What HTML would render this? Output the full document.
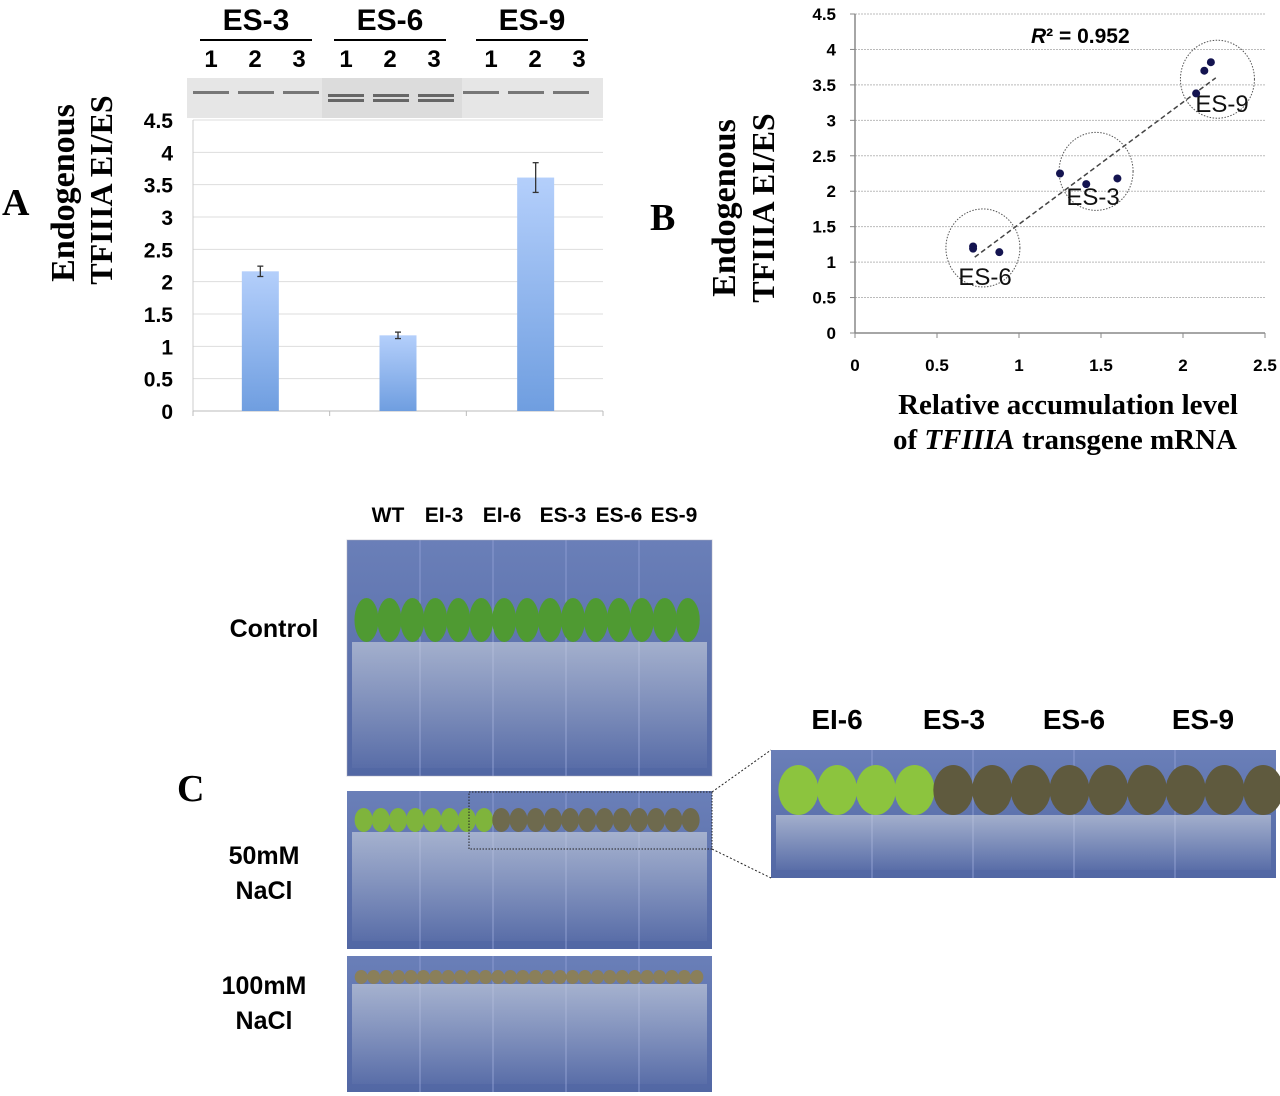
<!DOCTYPE html>
<html><head><meta charset="utf-8"><style>
html,body{margin:0;padding:0;background:#fff;}
svg{display:block;}
.sn{font-family:"Liberation Sans Narrow","Liberation Sans",sans-serif;font-weight:bold;}
.sf{font-family:"Liberation Serif",serif;font-weight:bold;}
</style></head><body>
<svg id="fig" width="1280" height="1096" viewBox="0 0 1280 1096" xmlns="http://www.w3.org/2000/svg">
<defs>
<linearGradient id="barg" x1="0" y1="0" x2="0" y2="1"><stop offset="0" stop-color="#b4cffb"/><stop offset="1" stop-color="#6f9ee0"/></linearGradient>
<linearGradient id="plate" x1="0" y1="0" x2="0" y2="1"><stop offset="0" stop-color="#6a7fb8"/><stop offset="1" stop-color="#5267a4"/></linearGradient>
<linearGradient id="roots" x1="0" y1="0" x2="0" y2="1"><stop offset="0" stop-color="#d0d6e0" stop-opacity="0.6"/><stop offset="1" stop-color="#c9d0dc" stop-opacity="0.05"/></linearGradient>
</defs>
<g id="panelA"></g>
<g id="panelB"></g>
<g id="panelC"></g>
</svg>
<script>
// ---------- Panel A data ----------
const aCategories = ["ES-3","ES-6","ES-9"];
const aValues = [2.16, 1.17, 3.61];
const aErrors = [0.08, 0.05, 0.23];
const aTicks = ["0","0.5","1","1.5","2","2.5","3","3.5","4","4.5"];
// ---------- Panel B data ----------
const bX = [0.72, 0.72, 0.88, 1.25, 1.41, 1.60, 2.08, 2.13, 2.17];
const bY = [1.22, 1.19, 1.14, 2.25, 2.10, 2.18, 3.38, 3.70, 3.82];
const bTrendX = [0.73, 2.20];
const bTrendY = [1.07, 3.60];
const bGroups = ["ES-6","ES-3","ES-9"];
const bGroupCx = [0.78, 1.47, 2.21];
const bGroupCy = [1.20, 2.28, 3.58];
const bYTicks = ["0","0.5","1","1.5","2","2.5","3","3.5","4","4.5"];
const bXTicks = ["0","0.5","1","1.5","2","2.5"];

const NS="http://www.w3.org/2000/svg";
function mk(parent,tag,attrs,text){const e=document.createElementNS(NS,tag);for(const k in attrs)e.setAttribute(k,attrs[k]);if(text!==undefined)e.textContent=text;parent.appendChild(e);return e;}

// ===== Panel A =====
(function(){
 const g=document.getElementById('panelA');
 const y0=411,y1=120,xl=193,xr=603;
 const ya=v=>y0-(v/4.5)*(y0-y1);
 const step=(xr-xl)/aCategories.length;
 const xa=i=>xl+step*(i+0.5)+ (i-1)*1;
 let t=mk(g,'text',{x:2,y:215,'font-size':38,class:'sf'},'A');
 
 t=mk(g,'text',{transform:'translate(74,193) rotate(-90)','text-anchor':'middle','font-size':34,class:'sf'},'Endogenous');
 
 t=mk(g,'text',{transform:'translate(112,190) rotate(-90)','text-anchor':'middle','font-size':32,class:'sf'},'TFIIIA EI/ES');
 
 // gel
 const gel=mk(g,'g',{});
 
 mk(gel,'rect',{x:187,y:78,width:416,height:40,fill:'#e6e6e6'});
 mk(gel,'rect',{x:322,y:78,width:140,height:40,fill:'#dcdcdc'});
 for(let i=0;i<3;i++){
  for(let j=0;j<3;j++){
   const cx=211+i*135+j*45;
   if(i===1){mk(gel,'rect',{x:cx-18,y:94,width:36,height:3,fill:'#666'});mk(gel,'rect',{x:cx-18,y:99,width:36,height:3,fill:'#666'});}
   else mk(gel,'rect',{x:cx-18,y:91,width:36,height:3,fill:'#777'});
  }
 }
 // headers
 for(let i=0;i<3;i++){
  const cx=256+i*134;
  t=mk(g,'text',{x:cx+(i==2?8:0),y:30,'text-anchor':'middle','font-size':30,class:'sn'},aCategories[i]);
  
  const l=mk(g,'line',{x1:cx-56+(i==2?8:0),x2:cx+56+(i==2?8:0),y1:40,y2:40,stroke:'#000','stroke-width':2});
  
  for(let j=0;j<3;j++){
   t=mk(g,'text',{x:211+i*(i==2?140:135)+j*44,y:67,'text-anchor':'middle','font-size':24,class:'sn'},String(j+1));
   
  }
 }
 aTicks.forEach((lab,i)=>{
  const v=parseFloat(lab),y=ya(v);
  const gl=mk(g,'line',{x1:xl,x2:xr,y1:y,y2:y,stroke:'#ddd','stroke-width':1});
  
  t=mk(g,'text',{x:173,y:y+8,'text-anchor':'end','font-size':21,class:'sn'},lab);
  
 });
 let ax=mk(g,'line',{x1:xl,x2:xl,y1:y1,y2:y0,stroke:'#ccc'});
 ax=mk(g,'line',{x1:xl,x2:xr,y1:y0,y2:y0,stroke:'#bbb'});
 for(let i=0;i<=3;i++){mk(g,'line',{x1:xl+step*i,x2:xl+step*i,y1:y0,y2:y0+5,stroke:'#bbb'});}
 aValues.forEach((v,i)=>{
  const cx=xa(i),w=37;
  const r=mk(g,'rect',{x:cx-w/2,y:ya(v),width:w,height:y0-ya(v),fill:'url(#barg)'});
  
  const e=aErrors[i],eg=mk(g,'g',{stroke:'#333','stroke-width':1.3});
  
  mk(eg,'line',{x1:cx,x2:cx,y1:ya(v+e),y2:ya(v-e)});
  mk(eg,'line',{x1:cx-3,x2:cx+3,y1:ya(v+e),y2:ya(v+e)});
  mk(eg,'line',{x1:cx-3,x2:cx+3,y1:ya(v-e),y2:ya(v-e)});
 });
})();

// ===== Panel B =====
(function(){
 const g=document.getElementById('panelB');
 const y0=333,y1=14,x0=855,x1=1265;
 const ys=v=>y0-(v/4.5)*(y0-y1);
 const xs=v=>x0+(v/2.5)*(x1-x0);
 let t=mk(g,'text',{x:650,y:230,'font-size':38,class:'sf'},'B');
 
 t=mk(g,'text',{transform:'translate(735,208) rotate(-90)','text-anchor':'middle','font-size':34,class:'sf'},'Endogenous');
 
 t=mk(g,'text',{transform:'translate(774,208) rotate(-90)','text-anchor':'middle','font-size':32,class:'sf'},'TFIIIA EI/ES');
 
 bYTicks.forEach(lab=>{
  const v=parseFloat(lab),y=ys(v);
  if(v>0){const gl=mk(g,'line',{x1:x0,x2:x1,y1:y,y2:y,stroke:'#bbb','stroke-dasharray':'2,1'});}
  mk(g,'line',{x1:x0-5,x2:x0,y1:y,y2:y,stroke:'#888'});
  t=mk(g,'text',{x:836,y:y+6,'text-anchor':'end','font-size':17,class:'sn'},lab);
  
 });
 bXTicks.forEach(lab=>{
  const v=parseFloat(lab),x=xs(v);
  mk(g,'line',{x1:x,x2:x,y1:y0,y2:y0+5,stroke:'#888'});
  t=mk(g,'text',{x:x,y:371,'text-anchor':'middle','font-size':17,class:'sn'},lab);
  
 });
 let ax=mk(g,'line',{x1:x0,x2:x0,y1:y1,y2:y0,stroke:'#888','stroke-width':1.5});
 ax=mk(g,'line',{x1:x0,x2:x1,y1:y0,y2:y0,stroke:'#888','stroke-width':1.5});
 t=mk(g,'text',{x:1068,y:414,'text-anchor':'middle','font-size':29,class:'sf'},'Relative accumulation level');
 
 t=mk(g,'text',{x:1065,y:449,'text-anchor':'middle','font-size':29,class:'sf'});
 
 t.innerHTML='of <tspan font-style="italic">TFIIIA</tspan> transgene mRNA';
 t=mk(g,'text',{x:1031,y:43,'font-size':21,class:'sn'});
 
 t.innerHTML='<tspan font-style="italic">R</tspan>² = 0.952';
 const tl=mk(g,'line',{x1:xs(bTrendX[0]),y1:ys(bTrendY[0]),x2:xs(bTrendX[1]),y2:ys(bTrendY[1]),stroke:'#444','stroke-width':1.5,'stroke-dasharray':'5,3'});
 
 bGroups.forEach((name,i)=>{
  const c=mk(g,'ellipse',{cx:xs(bGroupCx[i]),cy:ys(bGroupCy[i]),rx:37,ry:39,fill:'none',stroke:'#555','stroke-dasharray':'1.5,1.5'});
  
  const lx=[985,1093,1222][i],ly=[285,205,112][i];
  t=mk(g,'text',{x:lx,y:ly,'text-anchor':'middle','font-size':24,'font-family':'"Liberation Sans Narrow","Liberation Sans",sans-serif',fill:'#111'},name);
  
 });
 bX.forEach((x,i)=>{
  const p=mk(g,'circle',{cx:xs(x),cy:ys(bY[i]),r:4,fill:'#141450'});
  
 });
})();

// ===== Panel C (photographs approximated) =====
(function(){
 const g=document.getElementById('panelC');
 let t=mk(g,'text',{x:177,y:801,'font-size':38,class:'sf'},'C');
 
 const heads=["WT","EI-3","EI-6","ES-3","ES-6","ES-9"],hx=[388,444,502,563,619,674];
 heads.forEach((h,i)=>{t=mk(g,'text',{x:hx[i],y:522,'text-anchor':'middle','font-size':21,class:'sn'},h);});
 const rows=[["Control",null,637],["50mM","NaCl",872],["100mM","NaCl",1002]];
 rows.forEach(r=>{
  t=mk(g,'text',{x:r[1]?264:274,y:r[1]?r[2]-8:r[2],'text-anchor':'middle','font-size':25,class:'sn'},r[0]);
  
  if(r[1]){t=mk(g,'text',{x:264,y:r[2]+27,'text-anchor':'middle','font-size':25,class:'sn'},r[1]);}
 });
 function plate(name,x,y,w,h,leafY,leafColor,leafH,leafW){
  const p=mk(g,'g',{});
  mk(p,'rect',{x:x,y:y,width:w,height:h,fill:'url(#plate)'});
  for(let k=1;k<5;k++)mk(p,'line',{x1:x+w*k/5,x2:x+w*k/5,y1:y,y2:y+h,stroke:'#8a9ad0','stroke-width':1});
  mk(p,'rect',{x:x+5,y:leafY+leafH/2,width:w-10,height:(y+h)-(leafY+leafH/2)-8,fill:'url(#roots)'});
  const n=Math.round(w/leafW);
  for(let k=0;k<n;k++){
   const c=typeof leafColor==='function'?leafColor(k/n):leafColor;
   mk(p,'ellipse',{cx:x+8+leafW*(k+0.5)*(w-16)/w,cy:leafY,rx:leafW/2,ry:leafH/2,fill:c});
  }
  return p;
 }
 plate('control-plate-photo',347,540,365,236,620,'#4f9a32',44,24);
 mk(g,'rect',{x:347,y:540,width:365,height:236,fill:'none',stroke:'#aab',opacity:0.5});
 plate('salt-50mm-plate-photo',347,791,365,158,820,f=>f<0.38?'#7fb43c':'#6e6a4e',24,18);
 plate('salt-100mm-plate-photo',347,956,365,136,977,'#8a7f5a',14,13);
 plate('zoom-inset-photo',771,750,505,128,790,f=>f<0.26?'#8cc43e':'#5f5a3e',50,40);
 const hh=["EI-6","ES-3","ES-6","ES-9"],hhx=[837,954,1074,1203];
 hh.forEach((h,i)=>{t=mk(g,'text',{x:hhx[i],y:729,'text-anchor':'middle','font-size':28,class:'sn'},h);});
 const zr=mk(g,'rect',{x:469,y:792,width:243,height:57,fill:'none',stroke:'#222','stroke-dasharray':'1.5,1.5'});
 
 let l=mk(g,'line',{x1:712,y1:792,x2:771,y2:750,stroke:'#222','stroke-dasharray':'2,2'});
 l=mk(g,'line',{x1:712,y1:849,x2:771,y2:878,stroke:'#222','stroke-dasharray':'2,2'});
})();
</script>
</body></html>
